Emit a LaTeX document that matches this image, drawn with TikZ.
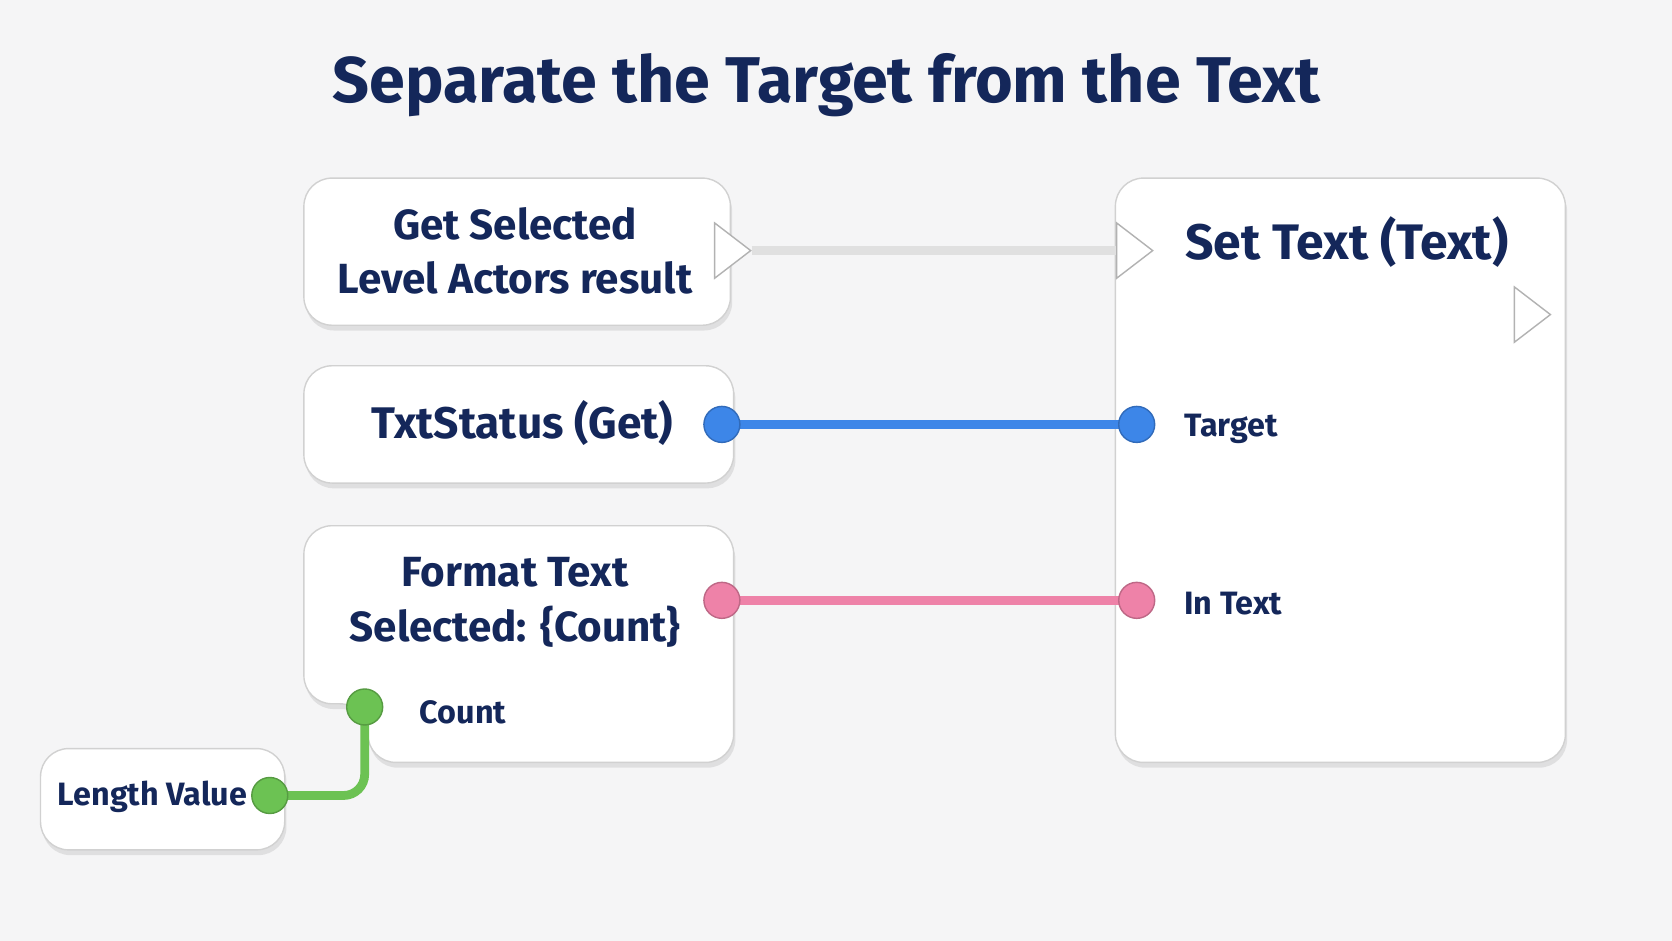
\documentclass[tikz,border=0pt]{standalone}
\usepackage{fontspec}
\setmainfont{Fira Sans}
\usetikzlibrary{positioning, shapes.geometric, shadows}
\definecolor{navy}{HTML}{14275A}
\definecolor{bluepin}{HTML}{3D86E8}
\definecolor{pinkpin}{HTML}{EE82A8}
\definecolor{greenpin}{HTML}{6CC253}
\definecolor{bg}{HTML}{F5F5F6}

\begin{document}
\begin{tikzpicture}[
    x = 0.010663cm, y = -0.010663cm,
    box/.style = {draw=black!18, fill=white, rounded corners=8pt,
        drop shadow={opacity=0.18, shadow xshift=0.5pt, shadow yshift=-1.5pt}},
    txt/.style = {text=navy, font=\fontsize{12}{15.5}\selectfont\bfseries, align=center},
    lbl/.style = {text=navy, font=\fontsize{9.2}{11}\selectfont\bfseries, anchor=west},
    pin/.style = {circle, minimum size=0.36cm, inner sep=0pt, draw=#1!80!black, fill=#1},
    exec/.style = {isosceles triangle, isosceles triangle apex angle=75, minimum size=0.36cm,
        inner sep=0pt, draw=black!30, fill=white}
]
    \fill[bg] (0,0) rectangle (1568,882);
    \useasboundingbox (0,0) rectangle (1568,882);

% Title
    \node[text=navy, font=\fontsize{18.4}{22}\selectfont\bfseries] (title) at (775,80) {Separate the Target from the Text};

% Left nodes
    \draw[box] (285,167) rectangle (685,305);
    \node[txt] (getsel) at (483,235) {Get Selected\\Level Actors result};

    \draw[box] (285,343) rectangle (688,453);
    \node[txt, font=\fontsize{12.6}{15}\selectfont\bfseries] (status) at (490,397) {TxtStatus (Get)};

    \draw[box] (285,493) -- (688,493) -- (688,715) -- (345,715) -- (345,660) -- (285,660) -- cycle;
    \node[txt] (format) at (483,565) {Format Text\\Selected: \{Count\}};
    \node[lbl] (count) at (382,668) {Count};

    \draw[box] (38,702) rectangle (267,797);
    \node[txt, font=\fontsize{9.2}{11}\selectfont\bfseries] (length) at (143,747) {Length Value};

% Right node
    \draw[box] (1046,167) rectangle (1468,715);
    \node[txt, font=\fontsize{14.2}{17}\selectfont\bfseries] (settext) at (1263,227) {Set Text (Text)};
    \node[lbl] (target) at (1099,402) {Target};
    \node[lbl] (intext) at (1099,566) {In Text};

% Pins
    \node[exec] (execout) at (683,235) {};
    \node[exec] (execin) at (1060,235) {};
    \node[exec] (execthen) at (1433,295) {};
    \coordinate (statusout) at (677,398);
    \coordinate (targetin) at (1066,398);
    \coordinate (formatout) at (677,563);
    \coordinate (intextin) at (1066,563);
    \coordinate (countin) at (342,663);
    \coordinate (lengthout) at (253,746);

% Wires
    \draw[black!12, line width=2.5pt] (execout.east) -- (execin.west);
    \draw[bluepin, line width=2.5pt] (statusout) -- (targetin);
    \draw[pinkpin, line width=2.5pt] (formatout) -- (intextin);
    \draw[greenpin, line width=2.5pt, rounded corners=6pt] (lengthout) -| (countin);
    \node[pin=bluepin] at (statusout) {};
    \node[pin=bluepin] at (targetin) {};
    \node[pin=pinkpin] at (formatout) {};
    \node[pin=pinkpin] at (intextin) {};
    \node[pin=greenpin] at (countin) {};
    \node[pin=greenpin] at (lengthout) {};
\end{tikzpicture}
\end{document}
